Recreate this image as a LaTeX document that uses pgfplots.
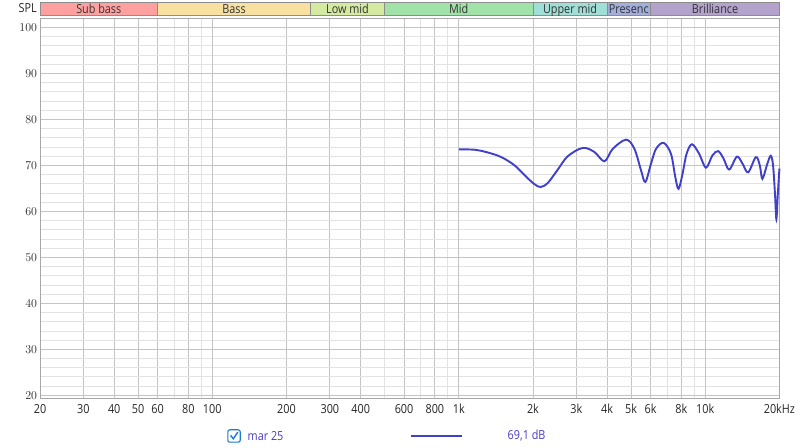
\documentclass[border=0pt]{standalone}
\usepackage{fontspec}
\setmainfont[FakeStretch=0.87]{Open Sans}
\usepackage{pgfplots}
\pgfplotsset{compat=1.18}
\definecolor{curve}{HTML}{4040C8}
\definecolor{majgrid}{HTML}{787878}
\definecolor{midgrid}{HTML}{C4C4C4}
\definecolor{mingrid}{HTML}{E2E2E2}
\definecolor{border}{HTML}{A8A8A8}
\definecolor{cSub}{HTML}{FFA0A0}
\definecolor{cBass}{HTML}{F8E0A0}
\definecolor{cLow}{HTML}{D4EAA0}
\definecolor{cMid}{HTML}{A0E2A8}
\definecolor{cUpp}{HTML}{A0DED8}
\definecolor{cPre}{HTML}{A2AEDC}
\definecolor{cBri}{HTML}{B2A2CC}
\definecolor{checkblue}{HTML}{1A78D8}
\definecolor{legtext}{HTML}{4A3CC0}
\pgfplotstableread{
f db
1000 73.5
1161 73.4
1314 72.8
1489 71.8
1685 70.0
1880 67.5
2031 65.9
2148 65.3
2299 66.2
2523 69.1
2770 72.0
3186 73.8
3553 72.9
3901 70.9
4215 73.6
4775 75.6
5160 73.6
5492 68.9
5716 66.4
6028 70.4
6316 73.6
6781 74.9
7263 72.5
7559 67.5
7796 64.9
8092 68.2
8400 72.5
8834 74.6
9456 72.5
10065 69.5
10705 72.2
11288 73.1
11862 71.5
12508 69.1
13443 71.9
14158 70.4
14934 68.5
16047 71.8
16656 70.0
17061 67.1
17874 70.4
18450 72.1
18850 70.0
19204 63.5
19440 58.3
19692 63.5
20000 69.3
}\datatable
\begin{document}
\begin{tikzpicture}[x=1bp,y=1bp]
\path[fill=white] (0,0) rectangle (800,448);
\begin{axis}[
  at={(40bp,49.5bp)}, anchor=south west,
  scale only axis, width=739.4bp, height=380.2bp,
  xmode=log, xmin=20, xmax=20000, ymin=19.3, ymax=102,
  clip=false,
  axis line style={border, line width=0.8bp},
  xtick={20,30,40,50,60,80,200,300,400,600,800,2000,3000,4000,5000,6000,8000,20000},
  xticklabels={20,30,40,50,60,80,200,300,400,600,800,2k,3k,4k,5k,6k,8k,20kHz},
  minor xtick={70,90,500,700,900,7000,9000},
  extra x ticks={100,1000,10000},
  extra x tick labels={100,1k,10k},
  extra x tick style={grid style={majgrid, line width=0.9bp}},
  ytick={20,30,40,50,60,70,80,90,100},
  minor ytick={22,24,26,28,32,34,36,38,42,44,46,48,52,54,56,58,62,64,66,68,72,74,76,78,82,84,86,88,92,94,96,98},
  xmajorgrids, xminorgrids, ymajorgrids, yminorgrids,
  major grid style={midgrid, line width=0.8bp},
  minor grid style={mingrid, line width=0.8bp},
  major tick length=0pt, minor tick length=0pt,
  ticklabel style={font=\fontsize{12.5}{14}\selectfont, text=black!85},
  xticklabel style={yshift=-2bp},
  yticklabel style={xshift=0.5bp},
  log ticks with fixed point,
]
% frequency bands (annotation strip)
\begin{scope}[draw=black!45, line width=0.8bp]
\filldraw[fill=cSub] (axis cs:20,102.65) rectangle (axis cs:60,105.39);
\filldraw[fill=cBass] (axis cs:60,102.65) rectangle (axis cs:250,105.39);
\filldraw[fill=cLow] (axis cs:250,102.65) rectangle (axis cs:500,105.39);
\filldraw[fill=cMid] (axis cs:500,102.65) rectangle (axis cs:2000,105.39);
\filldraw[fill=cUpp] (axis cs:2000,102.65) rectangle (axis cs:4000,105.39);
\filldraw[fill=cPre] (axis cs:4000,102.65) rectangle (axis cs:6000,105.39);
\filldraw[fill=cBri] (axis cs:6000,102.65) rectangle (axis cs:20000,105.39);
\end{scope}
\begin{scope}[every node/.style={font=\fontsize{12.5}{14}\selectfont, text=black!80, inner sep=0pt, anchor=base}]
\node at (axis cs:34.64,103.12) {Sub bass};
\node at (axis cs:122.5,103.12) {Bass};
\node at (axis cs:353.6,103.12) {Low mid};
\node at (axis cs:1000,103.12) {Mid};
\node at (axis cs:2828,103.12) {Upper mid};
\node at (axis cs:4899,103.12) {Presenc};
\node at (axis cs:10954,103.12) {Brilliance};
\end{scope}
\addplot[curve, line width=1.9bp, smooth, tension=0.55] table[x=f, y=db] {\datatable};
\end{axis}
\node[font=\fontsize{12.5}{14}\selectfont, text=black!85, anchor=base east, inner sep=0pt] at (37,435) {SPL};
% legend
\draw[checkblue, line width=1.1bp, rounded corners=2bp] (227.8,5.8) rectangle (240.2,18.2);
\draw[checkblue, line width=1.4bp] (230.6,12.6) -- (233.3,9.2) -- (237.8,15.8);
\node[font=\fontsize{12.5}{14}\selectfont, text=legtext, anchor=west, inner sep=0pt] at (247.5,12) {mar 25};
\draw[curve, line width=2bp] (411,11.5) -- (462,11.5);
\node[font=\fontsize{12.5}{14}\selectfont, text=legtext, anchor=west, inner sep=0pt] at (507.5,12) {69,1 dB};
\end{tikzpicture}
\end{document}
